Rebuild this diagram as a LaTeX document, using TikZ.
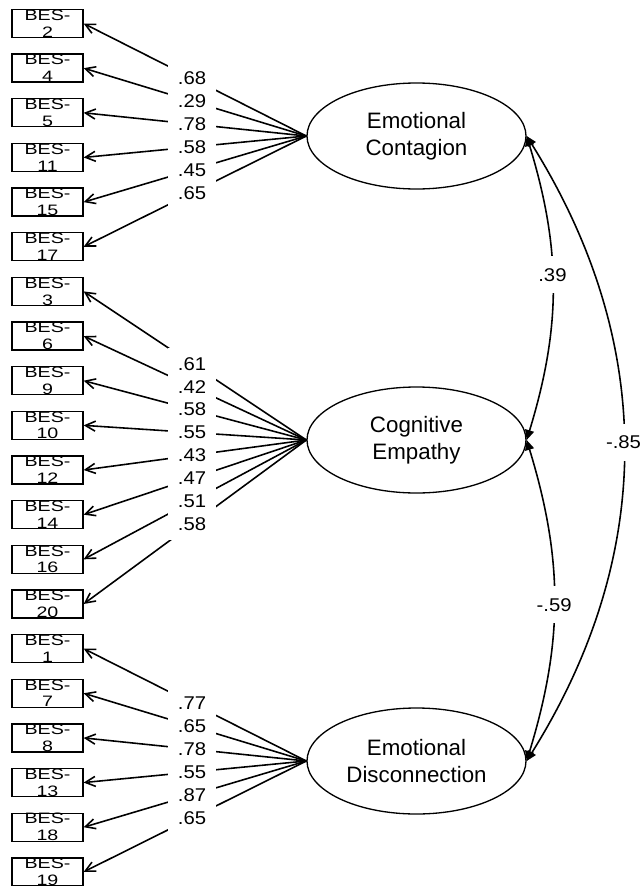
\documentclass[tikz,border=0pt]{standalone}
\usepackage{fontspec}
\setmainfont{Liberation Sans}
\newfontfamily\itemfont[FakeStretch=1.3]{Liberation Sans}
\newfontfamily\coeffont[FakeStretch=1.1]{Liberation Sans}
\usepackage{tikz}
\usetikzlibrary{shapes.geometric, arrows.meta, calc, positioning}
\tikzstyle{item} = [rectangle, draw, line width=0.75pt, minimum width=1.42cm, minimum height=0.56cm, inner sep=0pt, align=center, font=\itemfont\fontsize{8.6}{9.6}\selectfont]
\tikzstyle{factor} = [ellipse, draw, line width=0.75pt, minimum width=4.38cm, minimum height=2.12cm, inner sep=0pt, align=center, font=\fontsize{12.7}{15.3}\selectfont]
\tikzstyle{load} = [line width=0.9pt, -{Straight Barb[length=2mm, width=2mm]}]
\tikzstyle{corr} = [line width=0.9pt, {Triangle[length=2mm, width=1.8mm]}-{Triangle[length=2mm, width=1.8mm]}]
\tikzstyle{coef} = [fill=white, inner sep=0pt, minimum width=0.96cm, minimum height=0.64cm, font=\coeffont\fontsize{10.5}{12}\selectfont]

\begin{document}
\begin{tikzpicture}[node distance=0.893cm]
        \useasboundingbox (0,0) rectangle (12.82,-17.72);

        \node (b2) [item] at (0.95,-0.47) {BES-\\2};
        \node (b4) [item, below of=b2] {BES-\\4};
        \node (b5) [item, below of=b4] {BES-\\5};
        \node (b11) [item, below of=b5] {BES-\\11};
        \node (b15) [item, below of=b11] {BES-\\15};
        \node (b17) [item, below of=b15] {BES-\\17};
        \node (b3) [item, below of=b17] {BES-\\3};
        \node (b6) [item, below of=b3] {BES-\\6};
        \node (b9) [item, below of=b6] {BES-\\9};
        \node (b10) [item, below of=b9] {BES-\\10};
        \node (b12) [item, below of=b10] {BES-\\12};
        \node (b14) [item, below of=b12] {BES-\\14};
        \node (b16) [item, below of=b14] {BES-\\16};
        \node (b20) [item, below of=b16] {BES-\\20};
        \node (b1) [item, below of=b20] {BES-\\1};
        \node (b7) [item, below of=b1] {BES-\\7};
        \node (b8) [item, below of=b7] {BES-\\8};
        \node (b13) [item, below of=b8] {BES-\\13};
        \node (b18) [item, below of=b13] {BES-\\18};
        \node (b19) [item, below of=b18] {BES-\\19};

        \node (ec) [factor] at (8.33,-2.72) {Emotional\\Contagion};
        \node (ce) [factor] at (8.33,-8.80) {Cognitive\\Empathy};
        \node (ed) [factor] at (8.33,-15.22) {Emotional\\Disconnection};

        \draw [load] (ec.west) -- (b2.east);
        \draw [load] (ec.west) -- (b4.east);
        \draw [load] (ec.west) -- (b5.east);
        \draw [load] (ec.west) -- (b11.east);
        \draw [load] (ec.west) -- (b15.east);
        \draw [load] (ec.west) -- (b17.east);
        \draw [load] (ce.west) -- (b3.east);
        \draw [load] (ce.west) -- (b6.east);
        \draw [load] (ce.west) -- (b9.east);
        \draw [load] (ce.west) -- (b10.east);
        \draw [load] (ce.west) -- (b12.east);
        \draw [load] (ce.west) -- (b14.east);
        \draw [load] (ce.west) -- (b16.east);
        \draw [load] (ce.west) -- (b20.east);
        \draw [load] (ed.west) -- (b1.east);
        \draw [load] (ed.west) -- (b7.east);
        \draw [load] (ed.west) -- (b8.east);
        \draw [load] (ed.west) -- (b13.east);
        \draw [load] (ed.west) -- (b18.east);
        \draw [load] (ed.west) -- (b19.east);

        \node (c2) [coef] at ($(ec.west)!0.513!(b2.east)$) {.68};
        \node (c4) [coef] at ($(ec.west)!0.513!(b4.east)$) {.29};
        \node (c5) [coef] at ($(ec.west)!0.513!(b5.east)$) {.78};
        \node (c11) [coef] at ($(ec.west)!0.513!(b11.east)$) {.58};
        \node (c15) [coef] at ($(ec.west)!0.513!(b15.east)$) {.45};
        \node (c17) [coef] at ($(ec.west)!0.513!(b17.east)$) {.65};
        \node (c3) [coef] at ($(ce.west)!0.513!(b3.east)$) {.61};
        \node (c6) [coef] at ($(ce.west)!0.513!(b6.east)$) {.42};
        \node (c9) [coef] at ($(ce.west)!0.513!(b9.east)$) {.58};
        \node (c10) [coef] at ($(ce.west)!0.513!(b10.east)$) {.55};
        \node (c12) [coef] at ($(ce.west)!0.513!(b12.east)$) {.43};
        \node (c14) [coef] at ($(ce.west)!0.513!(b14.east)$) {.47};
        \node (c16) [coef] at ($(ce.west)!0.513!(b16.east)$) {.51};
        \node (c20) [coef] at ($(ce.west)!0.513!(b20.east)$) {.58};
        \node (c1) [coef] at ($(ed.west)!0.513!(b1.east)$) {.77};
        \node (c7) [coef] at ($(ed.west)!0.513!(b7.east)$) {.65};
        \node (c8) [coef] at ($(ed.west)!0.513!(b8.east)$) {.78};
        \node (c13) [coef] at ($(ed.west)!0.513!(b13.east)$) {.55};
        \node (c18) [coef] at ($(ed.west)!0.513!(b18.east)$) {.87};
        \node (c19) [coef] at ($(ed.west)!0.513!(b19.east)$) {.65};

        \draw [corr] (ec.east) to[bend left=17] node (r1) [coef, pos=0.454, minimum height=0.74cm] {.39} (ce.east);
        \draw [corr] (ce.east) to[bend left=17] node (r2) [coef, pos=0.514, minimum height=0.74cm] {-.59} (ed.east);
        \draw [corr] (ec.east) to[bend left=32] node (r3) [coef, pos=0.49, minimum height=0.74cm] {-.85} (ed.east);
    \end{tikzpicture}
\end{document}
